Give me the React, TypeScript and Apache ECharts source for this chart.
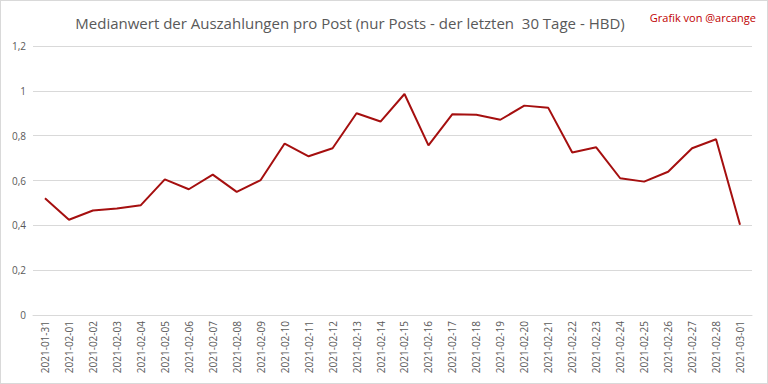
import React, { useEffect, useRef } from "react";
import * as echarts from "echarts";

const categories = [
  "2021-01-31", "2021-02-01", "2021-02-02", "2021-02-03", "2021-02-04", "2021-02-05",
  "2021-02-06", "2021-02-07", "2021-02-08", "2021-02-09", "2021-02-10", "2021-02-11",
  "2021-02-12", "2021-02-13", "2021-02-14", "2021-02-15", "2021-02-16", "2021-02-17",
  "2021-02-18", "2021-02-19", "2021-02-20", "2021-02-21", "2021-02-22", "2021-02-23",
  "2021-02-24", "2021-02-25", "2021-02-26", "2021-02-27", "2021-02-28", "2021-03-01",
];

const medianValues = [
  0.521, 0.425, 0.466, 0.475, 0.49, 0.605,
  0.561, 0.626, 0.549, 0.602, 0.765, 0.708,
  0.744, 0.9, 0.863, 0.986, 0.757, 0.896,
  0.893, 0.871, 0.934, 0.924, 0.725, 0.748,
  0.61, 0.595, 0.639, 0.744, 0.784, 0.403,
];

const titleText = "Medianwert der Auszahlungen pro Post (nur Posts - der letzten  30 Tage - HBD)";
const creditText = "Grafik von @arcange";

export default function App() {
  const ref = useRef<HTMLDivElement>(null);
  useEffect(() => {
    if (!ref.current) return;
    const chart = echarts.init(ref.current, null, { renderer: "svg" });
    const font = "Open Sans, Noto Sans, sans-serif";
    chart.setOption({
      animation: false,
      backgroundColor: "#ffffff",
      textStyle: { fontFamily: font },
      title: [
        {
          text: titleText,
          left: 344,
          textAlign: "center",
          top: 9,
          textStyle: { fontSize: 15, fontWeight: "normal", color: "#595959", fontFamily: font },
        },
        {
          text: creditText,
          right: 6,
          top: 6,
          textStyle: { fontSize: 11, fontWeight: "normal", color: "#c00000", fontFamily: font },
        },
      ],
      grid: { left: 32, right: 15, top: 45, bottom: 68, containLabel: false },
      xAxis: {
        type: "category",
        data: categories,
        boundaryGap: true,
        axisLine: { show: true, lineStyle: { color: "#d9d9d9", width: 1 } },
        axisTick: { show: false },
        axisLabel: { rotate: 90, fontSize: 10, color: "#595959", margin: 6, interval: 0, fontFamily: font },
        splitLine: { show: false },
      },
      yAxis: {
        type: "value",
        min: 0,
        max: 1.2,
        interval: 0.2,
        axisLine: { show: false },
        axisTick: { show: false },
        axisLabel: {
          fontSize: 10,
          color: "#595959",
          margin: 7,
          fontFamily: font,
          formatter: (v: number) => String(Math.round(v * 10) / 10).replace(".", ","),
        },
        splitLine: { show: true, lineStyle: { color: "#d9d9d9", width: 1 } },
      },
      series: [
        {
          type: "line",
          data: medianValues,
          symbol: "none",
          lineStyle: { color: "#a50f0f", width: 2 },
          itemStyle: { color: "#a50f0f" },
        },
      ],
    });
    return () => chart.dispose();
  }, []);
  return (
    <div
      ref={ref}
      style={{
        position: "fixed",
        left: 0,
        top: 0,
        width: 768,
        height: 384,
        boxSizing: "border-box",
        border: "1px solid #d9d9d9",
      }}
    />
  );
}
